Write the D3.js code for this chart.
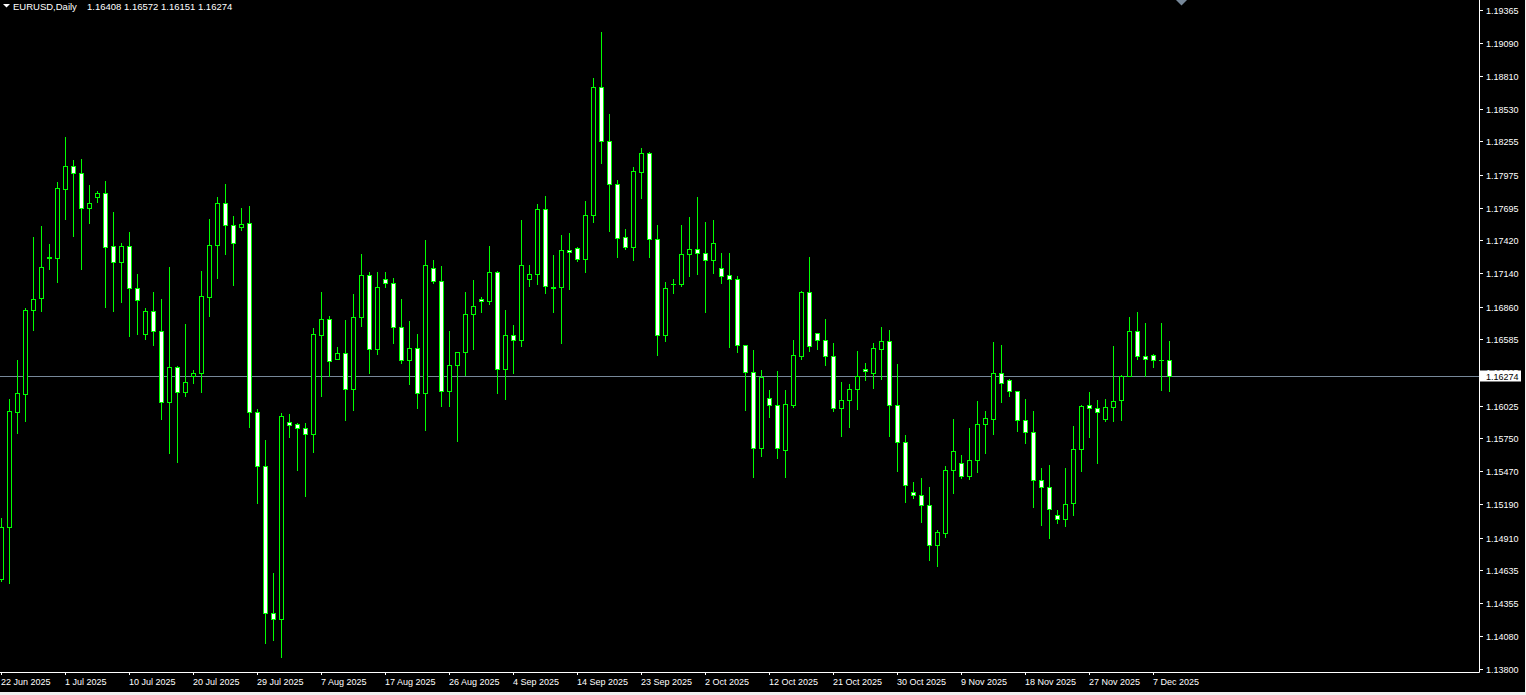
<!DOCTYPE html>
<html>
<head>
<meta charset="utf-8">
<script src="https://cdn.jsdelivr.net/npm/d3@7"></script>
<style>
  html, body { margin: 0; padding: 0; background: #000; overflow: hidden; }
  svg { display: block; }
</style>
</head>
<body>
<svg id="chart" width="1526" height="695"></svg>
<script>
// EURUSD daily bars, 22 Jun 2025 .. 9 Dec 2025 (Sun-Fri bars)
var symbol = "EURUSD,Daily"

var open = [
  1.14560, 1.14999, 1.15970, 1.16122, 1.16832, 1.16933, 1.17271, 1.17271, 1.17854, 1.18048,
  1.17989, 1.17690, 1.17786, 1.17820, 1.17372, 1.17237, 1.17372, 1.17018, 1.16629, 1.16823,
  1.16654, 1.16055, 1.16350, 1.16139, 1.16274, 1.16300, 1.16942, 1.17381, 1.17735, 1.17550,
  1.17533, 1.17567, 1.15970, 1.15514, 1.14273, 1.14222, 1.15886, 1.15869, 1.15835, 1.15785,
  1.16621, 1.16756, 1.16418, 1.16469, 1.16165, 1.16773, 1.17127, 1.16502, 1.17094, 1.17060,
  1.16688, 1.16410, 1.16511, 1.16131, 1.17186, 1.17077, 1.16148, 1.16367, 1.16477, 1.16798,
  1.16925, 1.16908, 1.17153, 1.16334, 1.16621, 1.16578, 1.17094, 1.17134, 1.17685, 1.17026,
  1.17026, 1.17338, 1.17355, 1.17262, 1.17634, 1.18715, 1.18259, 1.17896, 1.17448, 1.17364,
  1.17997, 1.18158, 1.17431, 1.16621, 1.17051, 1.17051, 1.17305, 1.17347, 1.17313, 1.17254,
  1.17186, 1.17127, 1.17094, 1.16536, 1.16308, 1.15666, 1.16089, 1.16030, 1.15649, 1.16030,
  1.16443, 1.16984, 1.16638, 1.16578, 1.16443, 1.16004, 1.16072, 1.16165, 1.16334, 1.16300,
  1.16502, 1.16570, 1.16030, 1.15717, 1.15295, 1.15269, 1.15185, 1.14847, 1.14949, 1.15481,
  1.15540, 1.15430, 1.15565, 1.15869, 1.15911, 1.16300, 1.16243, 1.16148, 1.15903, 1.15801,
  1.15396, 1.15337, 1.15101, 1.15067, 1.15202, 1.15658, 1.16030, 1.16004, 1.15911, 1.16013,
  1.16072, 1.16274, 1.16654, 1.16443, 1.16452, 1.16410, 1.16408
]
var high = [
  1.15075, 1.16080, 1.16410, 1.16849, 1.17448, 1.17541, 1.17389, 1.17910, 1.18293, 1.18098,
  1.18107, 1.17887, 1.17837, 1.17921, 1.17659, 1.17398, 1.17491, 1.17134, 1.16849, 1.16984,
  1.16925, 1.17195, 1.16359, 1.16714, 1.16325, 1.17161, 1.17600, 1.17786, 1.17896, 1.17626,
  1.17689, 1.17710, 1.15996, 1.15734, 1.14611, 1.15962, 1.15954, 1.15878, 1.15878, 1.16680,
  1.16984, 1.16781, 1.16519, 1.16747, 1.16967, 1.17305, 1.17153, 1.17153, 1.17153, 1.17102,
  1.16925, 1.16739, 1.16629, 1.17423, 1.17254, 1.17203, 1.16654, 1.16477, 1.16984, 1.17085,
  1.16942, 1.17372, 1.17161, 1.16832, 1.16705, 1.17592, 1.17212, 1.17727, 1.17795, 1.17296,
  1.17465, 1.17482, 1.17364, 1.17752, 1.18791, 1.19180, 1.18487, 1.17930, 1.17516, 1.18039,
  1.18200, 1.18166, 1.17550, 1.17068, 1.17094, 1.17550, 1.17617, 1.17786, 1.17575, 1.17592,
  1.17313, 1.17313, 1.17119, 1.16536, 1.16494, 1.16325, 1.16156, 1.16317, 1.16156, 1.16578,
  1.16992, 1.17279, 1.16638, 1.16756, 1.16553, 1.16224, 1.16207, 1.16486, 1.16384, 1.16553,
  1.16688, 1.16663, 1.16376, 1.15776, 1.15379, 1.15413, 1.15337, 1.14974, 1.15514, 1.15911,
  1.15607, 1.15835, 1.16063, 1.15979, 1.16562, 1.16536, 1.16249, 1.16148, 1.16080, 1.15979,
  1.15497, 1.15523, 1.15143, 1.15497, 1.15852, 1.16030, 1.16139, 1.16072, 1.16080, 1.16528,
  1.16283, 1.16773, 1.16815, 1.16722, 1.16460, 1.16722, 1.16572
]
var low = [
  1.14543, 1.14526, 1.15793, 1.15894, 1.16663, 1.16823, 1.17178, 1.17068, 1.17600, 1.17457,
  1.17178, 1.17567, 1.17744, 1.16857, 1.16823, 1.16899, 1.16612, 1.16629, 1.16587, 1.16536,
  1.15911, 1.15624, 1.15548, 1.16106, 1.16215, 1.16139, 1.16781, 1.17102, 1.17305, 1.17043,
  1.17507, 1.15844, 1.15202, 1.14020, 1.14045, 1.13901, 1.15759, 1.15481, 1.15261, 1.15633,
  1.16106, 1.16274, 1.16415, 1.15903, 1.15987, 1.16697, 1.16300, 1.16460, 1.17026, 1.16553,
  1.16384, 1.16207, 1.16004, 1.15818, 1.17060, 1.16021, 1.16021, 1.15726, 1.16283, 1.16502,
  1.16815, 1.16882, 1.16131, 1.16080, 1.16300, 1.16528, 1.17034, 1.17051, 1.16975, 1.16815,
  1.16553, 1.17009, 1.17246, 1.17153, 1.17575, 1.18073, 1.17499, 1.17279, 1.17347, 1.17254,
  1.17778, 1.17279, 1.16452, 1.16570, 1.16975, 1.17034, 1.17119, 1.17134, 1.16815, 1.17144,
  1.17060, 1.16519, 1.16477, 1.15987, 1.15421, 1.15599, 1.15928, 1.15582, 1.15421, 1.16013,
  1.16418, 1.16486, 1.16502, 1.16367, 1.15979, 1.15768, 1.15844, 1.15996, 1.16243, 1.16173,
  1.16249, 1.15768, 1.15472, 1.15210, 1.15244, 1.15041, 1.14721, 1.14670, 1.14915, 1.15286,
  1.15413, 1.15405, 1.15464, 1.15624, 1.15785, 1.16055, 1.16106, 1.15810, 1.15709, 1.15168,
  1.15016, 1.14906, 1.15033, 1.15008, 1.15101, 1.15472, 1.15759, 1.15540, 1.15894, 1.15894,
  1.15903, 1.16274, 1.16418, 1.16274, 1.16350, 1.16156, 1.16151
]
var close = [
  1.14999, 1.15979, 1.16131, 1.16832, 1.16925, 1.17195, 1.17279, 1.17862, 1.18048, 1.17989,
  1.17690, 1.17735, 1.17820, 1.17364, 1.17237, 1.17372, 1.17018, 1.16916, 1.16823, 1.16654,
  1.16055, 1.16350, 1.16139, 1.16224, 1.16300, 1.16950, 1.17381, 1.17735, 1.17550, 1.17398,
  1.17558, 1.15970, 1.15514, 1.14273, 1.14222, 1.15937, 1.15861, 1.15835, 1.15785, 1.16629,
  1.16756, 1.16401, 1.16469, 1.16165, 1.16773, 1.17127, 1.16502, 1.17026, 1.17060, 1.16688,
  1.16410, 1.16511, 1.16131, 1.17212, 1.17077, 1.16148, 1.16367, 1.16477, 1.16798, 1.16866,
  1.16908, 1.17153, 1.16334, 1.16621, 1.16578, 1.17212, 1.17134, 1.17685, 1.17034, 1.17018,
  1.17338, 1.17322, 1.17262, 1.17634, 1.18715, 1.18259, 1.17896, 1.17440, 1.17364, 1.18006,
  1.18158, 1.17431, 1.16621, 1.17018, 1.17051, 1.17305, 1.17347, 1.17313, 1.17254, 1.17398,
  1.17119, 1.17094, 1.16536, 1.16308, 1.15666, 1.16266, 1.16030, 1.15666, 1.16038, 1.16452,
  1.16984, 1.16528, 1.16578, 1.16443, 1.16004, 1.16072, 1.16165, 1.16274, 1.16317, 1.16511,
  1.16570, 1.16030, 1.15717, 1.15355, 1.15269, 1.15185, 1.14847, 1.14957, 1.15481, 1.15641,
  1.15430, 1.15565, 1.15869, 1.15920, 1.16300, 1.16215, 1.16148, 1.15903, 1.15801, 1.15396,
  1.15337, 1.15151, 1.15067, 1.15193, 1.15658, 1.16021, 1.16004, 1.15970, 1.16013, 1.16063,
  1.16274, 1.16654, 1.16443, 1.16418, 1.16410, 1.16408, 1.16274
]

// right axis tick labels
var priceTicks = [
  1.19365, 1.19090, 1.18810, 1.18530, 1.18255, 1.17975, 1.17695, 1.17420, 1.17140, 1.16860,
  1.16585, 1.16305, 1.16025, 1.15750, 1.15470, 1.15190, 1.14910, 1.14635, 1.14355, 1.14080, 1.13800
]

// bars: Sunday..Friday, no Saturdays
var dates = d3.timeDay.range(new Date(2025, 5, 22), new Date(2025, 11, 10))
  .filter(d => d.getDay() != 6)
  .slice(0, open.length)
var labelEvery = 8

var W = 1526, H = 695
var axisX = 1479, axisY = 672
var barStep = 8
var green = "#00ff00"
var lineGray = "#778899"
var font = "'Liberation Sans', Arial, sans-serif"

var svg = d3.select("#chart")
svg.append("rect").attr("width", W).attr("height", H).attr("fill", "#000")

var x = d3.scaleLinear()
  .domain([0, open.length - 1])
  .range([1.5, 1.5 + barStep * (open.length - 1)])
var y = d3.scaleLinear()
  .domain([d3.min(priceTicks), d3.max(priceTicks)])
  .range([669, 10])
var py = v => Math.round(y(v))
var fmt = d3.format(".5f")
var lastIdx = open.length - 1

// current price line
var lastY = py(close[lastIdx]) + 0.5
svg.append("line")
  .attr("x1", 0).attr("x2", axisX)
  .attr("y1", lastY).attr("y2", lastY)
  .attr("stroke", lineGray).attr("stroke-width", 1)

// candles
var bars = d3.range(open.length).map(i => ({
  i: i, o: open[i], h: high[i], l: low[i], c: close[i]
}))
var candle = svg.append("g").selectAll("g")
  .data(bars).enter().append("g")

candle.append("line")
  .attr("x1", d => x(d.i)).attr("x2", d => x(d.i))
  .attr("y1", d => py(d.h))
  .attr("y2", d => py(d.l) + 1)
  .attr("stroke", green).attr("stroke-width", 1)

candle.filter(d => py(d.o) != py(d.c)).append("rect")
  .attr("x", d => x(d.i) - 2)
  .attr("y", d => Math.min(py(d.o), py(d.c)) + 0.5)
  .attr("width", 4)
  .attr("height", d => Math.abs(py(d.o) - py(d.c)))
  .attr("fill", d => d.c > d.o ? "#000" : "#fff")
  .attr("stroke", green).attr("stroke-width", 1)

candle.filter(d => py(d.o) == py(d.c)).append("line")
  .attr("x1", d => x(d.i) - 2.5).attr("x2", d => x(d.i) + 2.5)
  .attr("y1", d => py(d.o) + 0.5).attr("y2", d => py(d.o) + 0.5)
  .attr("stroke", green).attr("stroke-width", 1)

// axes frame
svg.append("line")
  .attr("x1", 0).attr("x2", axisX + 0.5)
  .attr("y1", axisY + 0.5).attr("y2", axisY + 0.5)
  .attr("stroke", "#fff")
svg.append("line")
  .attr("x1", axisX + 0.5).attr("x2", axisX + 0.5)
  .attr("y1", 0).attr("y2", axisY + 0.5)
  .attr("stroke", "#fff")

// price axis
var pt = svg.append("g").selectAll("g")
  .data(priceTicks).enter().append("g")
  .attr("transform", d => "translate(0," + (py(d) + 0.5) + ")")
pt.append("line")
  .attr("x1", axisX + 1).attr("x2", axisX + 4)
  .attr("stroke", "#fff")
pt.append("text")
  .attr("x", axisX + 7).attr("y", 3.5)
  .attr("fill", "#fff")
  .style("font-family", font).style("font-size", "9px")
  .text(d => fmt(d))

// current price box
svg.append("rect")
  .attr("x", axisX + 1).attr("y", lastY - 6)
  .attr("width", 41).attr("height", 11)
  .attr("fill", "#fff")
svg.append("text")
  .attr("x", axisX + 7).attr("y", lastY + 3.5)
  .attr("fill", "#000")
  .style("font-family", font).style("font-size", "9px")
  .text(fmt(close[lastIdx]))

// time axis
var tf = d3.timeFormat("%-d %b %Y")
var tIdx = d3.range(0, open.length, labelEvery)
var tt = svg.append("g").selectAll("g")
  .data(tIdx).enter().append("g")
  .attr("transform", i => "translate(" + x(i) + ",0)")
tt.append("line")
  .attr("y1", axisY + 1).attr("y2", axisY + 3)
  .attr("stroke", "#fff")
tt.append("text")
  .attr("x", -0.5).attr("y", 685)
  .attr("fill", "#fff")
  .style("font-family", font).style("font-size", "9px")
  .text(i => tf(dates[i]))

// header
svg.append("path")
  .attr("d", "M3,4 L10,4 L6.5,7.5 Z")
  .attr("fill", "#fff")
svg.append("text")
  .attr("x", 13).attr("y", 10)
  .attr("fill", "#fff")
  .style("font-family", font).style("font-size", "9.5px")
  .text(symbol)
svg.append("text")
  .attr("x", 87).attr("y", 10)
  .attr("fill", "#fff")
  .style("font-family", font).style("font-size", "9.5px")
  .text([open[lastIdx], high[lastIdx], low[lastIdx], close[lastIdx]].map(fmt).join(" "))

// chart shift marker
svg.append("path")
  .attr("d", "M1176,0 L1187,0 L1181.5,5.5 Z")
  .attr("fill", lineGray)

// window edge
svg.append("rect")
  .attr("x", 0).attr("y", 692).attr("width", W).attr("height", 3)
  .attr("fill", "#f0f0f0")
svg.append("rect")
  .attr("x", W - 1).attr("y", 0).attr("width", 1).attr("height", H)
  .attr("fill", "#f0f0f0")
</script>
</body>
</html>
